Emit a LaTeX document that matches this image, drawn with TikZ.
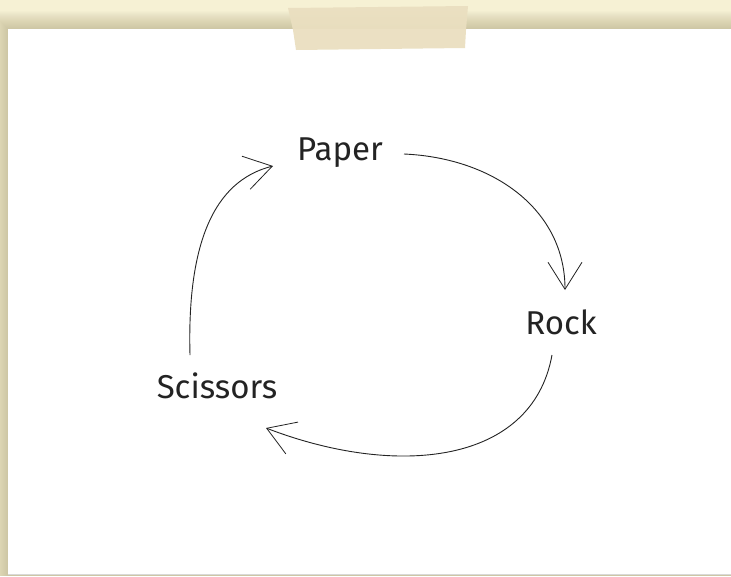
\documentclass[tikz,border=0pt]{standalone}
\usepackage{fontspec}
\setmainfont{Fira Sans}
\usetikzlibrary{arrows.meta, calc}
\definecolor{desk}{RGB}{246,241,212}
\definecolor{deskdark}{RGB}{150,140,95}
\definecolor{tape}{RGB}{234,223,192}
\definecolor{ink}{RGB}{35,35,35}
\begin{document}
\begin{tikzpicture}[
    x=1pt, y=-1pt,
    word/.style={font=\fontsize{33}{36}\selectfont, text=ink, inner sep=2pt},
    arrow/.style={draw=ink, line width=0.9pt, -{Straight Barb[length=27pt, width=34pt, line width=0.8pt]}}
]
    \useasboundingbox (0,0) rectangle (731,576);
    \clip (0,0) rectangle (731,576);
    % desk and sheet
    \fill[desk] (0,0) rectangle (731,576);
    \foreach \d in {1,...,18}
        \fill[deskdark, opacity=0.025] (8-\d,29-\d) rectangle (731,576);
    \fill[white] (8,29) rectangle (731,574);
    \draw[black!15, line width=0.8pt] (8,574.5) -- (731,574.5);
    \fill[tape, opacity=0.95] (288,8) -- (468,6) -- (466,30) -- (465,48) -- (296,50) -- (293,30) -- cycle;

    \node[word] (paper) at (340,153) {Paper};
    \node[word] (rock) at (561,322) {Rock};
    \node[word] (scissors) at (217,386) {Scissors};

    \draw[arrow] ($(paper.center)+(64,1)$) .. controls +(90,4) and +(0,-80) .. ($(rock.center)+(4,-32)$);
    \draw[arrow] ($(rock.center)+(-9,33)$) .. controls +(-20,110) and +(130,50) .. ($(scissors.center)+(49,42)$);
    \draw[arrow] ($(scissors.center)+(-27,-31)$) .. controls +(-3,-110) and +(-60,15) .. ($(paper.center)+(-67,13)$);
\end{tikzpicture}
\end{document}
